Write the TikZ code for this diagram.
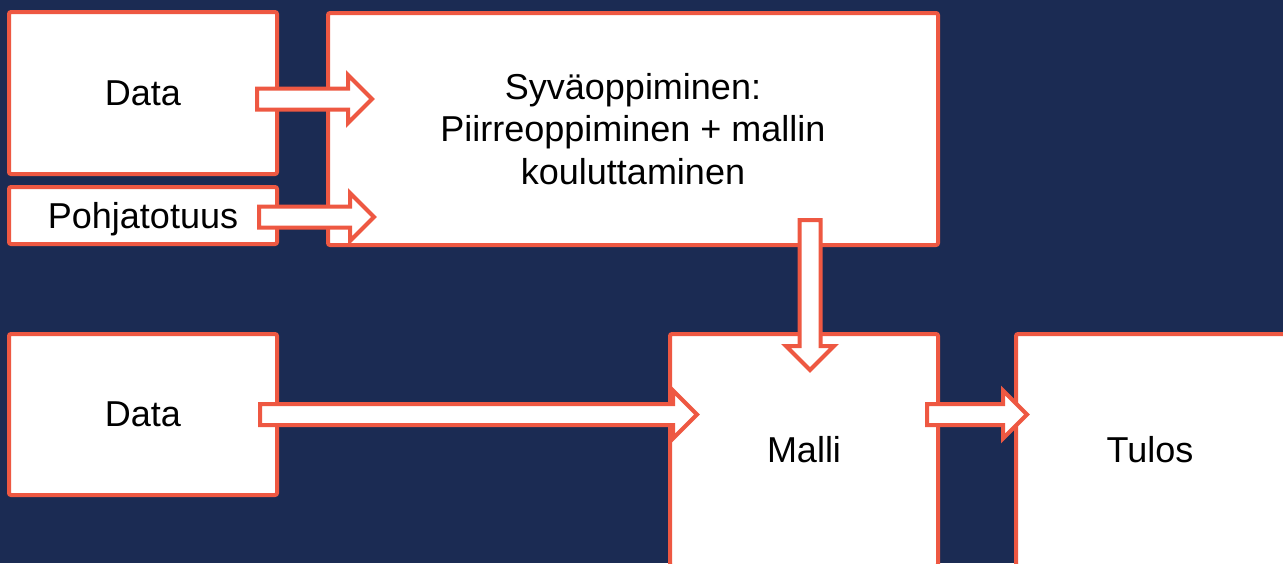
\documentclass[tikz,border=0pt]{standalone}
\usepackage{fontspec}
\setmainfont{Liberation Sans}
\usetikzlibrary{calc}
\definecolor{navy}{RGB}{27,43,83}
\definecolor{redline}{RGB}{238,88,66}
\tikzset{
  box/.style={draw=redline, fill=white, line width=4pt, rounded corners=2pt,
    outer sep=0pt, inner sep=0pt, align=center,
    font=\fontsize{36}{42.5}\selectfont, text=black},
  barrow/.style={draw=redline, fill=white, line width=4pt, line join=miter},
}
\newcommand\hblock[2]{%
  \draw[barrow] let \p1=(#1), \p2=(#2) in
    (\x1,\y1+10.5pt) -- (\x2-24pt,\y1+10.5pt) -- (\x2-24pt,\y1+24pt) -- (\x2,\y1)
    -- (\x2-24pt,\y1-24pt) -- (\x2-24pt,\y1-10.5pt) -- (\x1,\y1-10.5pt) -- cycle;}
\newcommand\vblock[2]{%
  \draw[barrow] let \p1=(#1), \p2=(#2) in
    (\x1-10.5pt,\y1) -- (\x1-10.5pt,\y2+24pt) -- (\x1-24pt,\y2+24pt) -- (\x1,\y2)
    -- (\x1+24pt,\y2+24pt) -- (\x1+10.5pt,\y2+24pt) -- (\x1+10.5pt,\y1) -- cycle;}
\begin{document}
\begin{tikzpicture}[x=1pt,y=-1pt]
  \fill[navy] (0,0) rectangle (1283,563);
  \useasboundingbox (0,0) rectangle (1283,563);
  \clip (0,0) rectangle (1283,563);
  % nodes
  \node[box, minimum width=268, minimum height=162] (data1) at (143,93) {Data};
  \node[box, minimum width=268, minimum height=57, text depth=0pt] (pohja) at (143,215.5) {Pohjatotuus};
  \node[box, minimum width=610, minimum height=232] (syva) at (633,129)
    {Syväoppiminen:\\Piirreoppiminen + mallin\\kouluttaminen};
  \node[box, minimum width=268, minimum height=161] (data2) at (143,414.5) {Data};
  \node[box, minimum width=268, minimum height=232] (malli) at (804,450) {Malli};
  \node[box, minimum width=280, minimum height=232] (tulos) at (1156,450) {Tulos\hspace*{12pt}};
  % arrow end points
  \coordinate (a1s) at ($(data1.east)+(-20,6)$);
  \coordinate (a1e) at ($(syva.west)+(44,0)$);
  \coordinate (a2s) at ($(pohja.east)+(-18,1.5)$);
  \coordinate (a2e) at ($(syva.west)+(46,0)$);
  \coordinate (a3s) at ($(syva.south)+(177,-25)$);
  \coordinate (a3e) at ($(malli.north)+(0,36)$);
  \coordinate (a4s) at ($(data2.east)+(-17,0)$);
  \coordinate (a4e) at ($(malli.west)+(27,0)$);
  \coordinate (a5s) at ($(malli.east)+(-11,-35.5)$);
  \coordinate (a5e) at ($(tulos.west)+(11,0)$);
  % block arrows
  \hblock{a1s}{a1e}
  \hblock{a2s}{a2e}
  \vblock{a3s}{a3e}
  \hblock{a4s}{a4e}
  \hblock{a5s}{a5e}
\end{tikzpicture}
\end{document}
